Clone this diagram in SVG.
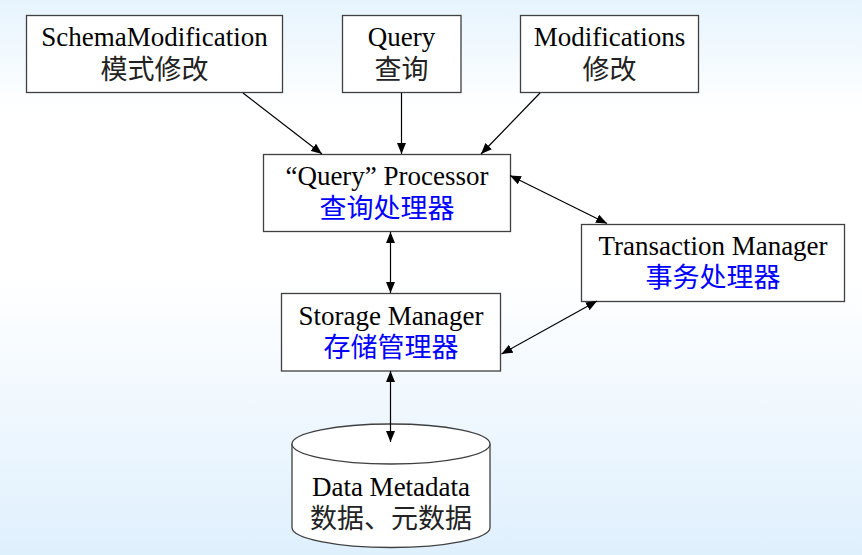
<svg xmlns="http://www.w3.org/2000/svg" width="862" height="555" viewBox="0 0 862 555">
<defs>
<linearGradient id="bg" x1="0" y1="0" x2="0" y2="1">
<stop offset="0" stop-color="#e6f4fd"/>
<stop offset="0.2" stop-color="#ffffff"/>
<stop offset="0.5" stop-color="#ffffff"/>
<stop offset="1" stop-color="#dff0fd"/>
</linearGradient>
<marker id="ah" markerUnits="userSpaceOnUse" markerWidth="11" markerHeight="9" refX="11" refY="4.5" orient="auto-start-reverse" viewBox="0 0 11 9">
<path d="M0,0 L11,4.5 L0,9 z" fill="#000"/>
</marker>
</defs>
<style>
.box{fill:#fff;stroke:#404040;stroke-width:1.3}
.en{font-family:'Liberation Serif','Noto Sans CJK SC',serif;font-size:27px;fill:#000;text-anchor:middle}
.zh{font-family:'Liberation Serif','Noto Sans CJK SC',serif;font-size:27px;fill:#222;text-anchor:middle}
.zb{font-family:'Liberation Serif','Noto Sans CJK SC',serif;font-size:27px;fill:#0000ff;text-anchor:middle}
.c{stroke:#000;stroke-width:1.2;fill:none}
</style>
<rect width="862" height="555" fill="url(#bg)"/>
<g id="schema">
<rect class="box" x="26.5" y="15.5" width="256" height="77"/>
<text class="en" x="154.5" y="46">SchemaModification</text>
<text class="zh" x="154.5" y="79">模式修改</text>
</g>
<g id="query">
<rect class="box" x="342.5" y="15.5" width="118.5" height="77"/>
<text class="en" x="401.5" y="46">Query</text>
<text class="zh" x="401.5" y="79">查询</text>
</g>
<g id="modifications">
<rect class="box" x="520.5" y="15.5" width="178" height="77"/>
<text class="en" x="609.5" y="46">Modifications</text>
<text class="zh" x="609.5" y="79">修改</text>
</g>
<g id="queryprocessor">
<rect class="box" x="263.5" y="154.5" width="247" height="77"/>
<text class="en" x="387" y="185">“Query” Processor</text>
<text class="zb" x="387" y="218">查询处理器</text>
</g>
<g id="transaction">
<rect class="box" x="581.5" y="224.5" width="263" height="77"/>
<text class="en" x="713" y="255">Transaction Manager</text>
<text class="zb" x="713" y="287">事务处理器</text>
</g>
<g id="storage">
<rect class="box" x="281.5" y="293.5" width="219" height="77.5"/>
<text class="en" x="391" y="324.5">Storage Manager</text>
<text class="zb" x="391" y="357">存储管理器</text>
</g>
<g id="data">
<path class="box" d="M292,444 V527.5 A99,20 0 0 0 490,527.5 V444"/>
<ellipse class="box" cx="391" cy="444" rx="99" ry="20"/>
<text class="en" x="391" y="496">Data Metadata</text>
<text class="zh" x="391" y="528">数据、元数据</text>
</g>
<g id="connectors">
<line class="c" x1="243" y1="93" x2="322" y2="154" marker-end="url(#ah)"/>
<line class="c" x1="401.5" y1="93" x2="401.5" y2="154" marker-end="url(#ah)"/>
<line class="c" x1="540" y1="93" x2="481" y2="154" marker-end="url(#ah)"/>
<line class="c" x1="510" y1="175.5" x2="607" y2="223.5" marker-start="url(#ah)" marker-end="url(#ah)"/>
<line class="c" x1="390.5" y1="232" x2="390.5" y2="293" marker-start="url(#ah)" marker-end="url(#ah)"/>
<line class="c" x1="501.5" y1="354" x2="597" y2="301" marker-start="url(#ah)" marker-end="url(#ah)"/>
<line class="c" x1="390.5" y1="371" x2="390.5" y2="442" marker-start="url(#ah)" marker-end="url(#ah)"/>
</g>
</svg>
